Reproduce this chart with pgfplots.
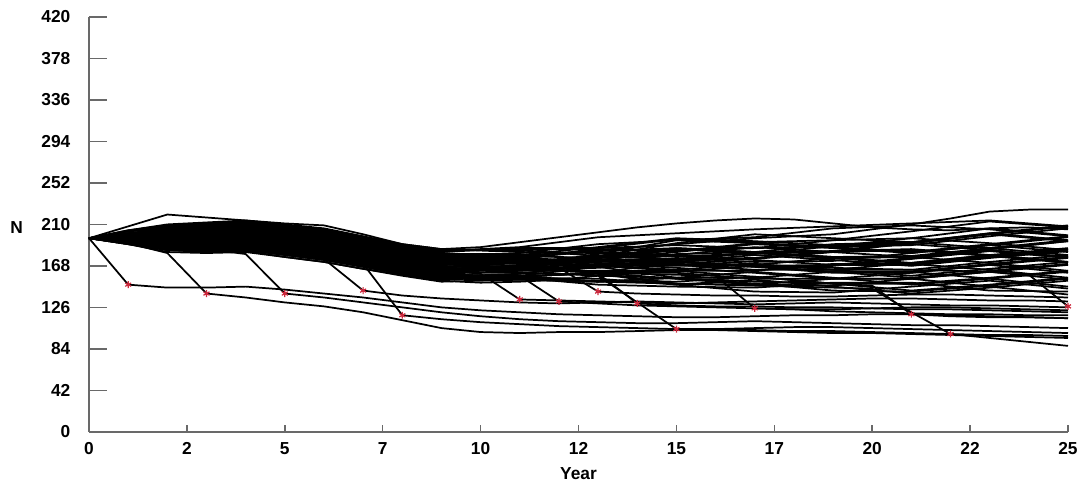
\documentclass[border=0pt]{standalone}
\usepackage{fontspec}
\setmainfont{Liberation Sans}
\usepackage{pgfplots}
\pgfplotsset{compat=1.18}
\definecolor{catred}{RGB}{205,40,60}
\definecolor{axgray}{RGB}{105,105,105}
\pgfplotsset{traj/.style={black, line width=1.3pt, mark=none}}

\begin{document}
\begin{tikzpicture}
\begin{axis}[
  name=ax,
  scale only axis,
  width=734pt, height=311pt,
  xmin=0, xmax=25, ymin=0, ymax=420,
  axis lines=left,
  axis line style={-, axgray, line width=1.8pt},
  tick align=inside,
  tick style={axgray, line width=1.1pt},
  xtick={0,2.5,...,25},
  xticklabels={0,2,5,7,10,12,15,17,20,22,25},
  ytick={0,42,...,420},
  xtick style={/pgfplots/major tick length=5pt},
  ytick style={/pgfplots/major tick length=13.5pt},
  ticklabel style={font=\bfseries\fontsize{13}{15}\selectfont},
  yticklabel style={xshift=-10.5pt},
  xticklabel style={yshift=-4.5pt},
  /pgf/number format/assume math mode=true,
  xlabel={Year}, ylabel={N},
  label style={font=\bfseries\fontsize{13}{15}\selectfont},
  xlabel style={at={(axis description cs:0.5,-0.101)}, anchor=center},
  ylabel style={at={(axis description cs:-0.074,0.493)}, anchor=center, rotate=-90},
  clip=false,
]
% main band trajectories
\addplot[traj] coordinates {(0,196)(1,190)(2,182)(3,181)(4,182)(6,172)(8,158)(9,152)(11,154)(13,152)(15,156)(17,162)(19,156)(21,149)(23,155)(25,162)};
\addplot[traj] coordinates {(0,196)(1,191)(2,185)(3,184)(4,185)(6,175)(8,161)(9,155)(11,158)(13,167)(15,173)(17,168)(19,169)(21,176)(23,184)(25,177)};
\addplot[traj] coordinates {(0,196)(1,193)(2,188)(3,187)(4,188)(6,179)(8,164)(9,159)(11,158)(13,152)(15,156)(17,150)(19,143)(21,142)(23,148)(25,155)};
\addplot[traj] coordinates {(0,196)(1,194)(2,190)(3,190)(4,192)(6,182)(8,168)(9,162)(11,166)(13,176)(15,184)(17,186)(19,194)(21,196)(23,191)(25,184)};
\addplot[traj] coordinates {(0,196)(1,196)(2,193)(3,193)(4,195)(6,186)(8,171)(9,165)(11,166)(13,162)(15,162)(17,168)(19,162)(21,156)(23,163)(25,170)};
\addplot[traj] coordinates {(0,196)(1,197)(2,196)(3,197)(4,198)(6,189)(8,174)(9,169)(11,174)(13,186)(15,195)(17,192)(19,194)(21,203)(23,213)(25,207)};
\addplot[traj] coordinates {(0,196)(1,198)(2,199)(3,200)(4,201)(6,192)(8,177)(9,172)(11,170)(13,172)(15,173)(17,168)(19,162)(21,162)(23,170)(25,177)};
\addplot[traj] coordinates {(0,196)(1,200)(2,202)(3,203)(4,204)(6,196)(8,180)(9,175)(11,178)(13,176)(15,178)(17,180)(19,188)(21,190)(23,184)(25,177)};
\addplot[traj] coordinates {(0,196)(1,201)(2,204)(3,206)(4,208)(6,199)(8,184)(9,178)(11,174)(13,167)(15,156)(17,156)(19,162)(21,162)(23,155)(25,147)};
\addplot[traj] coordinates {(0,196)(1,203)(2,207)(3,209)(4,211)(6,203)(8,187)(9,182)(11,186)(13,186)(15,189)(17,186)(19,188)(21,196)(23,206)(25,199)};
\addplot[traj] coordinates {(0,196)(1,204)(2,210)(3,212)(4,214)(6,206)(8,190)(9,185)(11,182)(13,181)(15,178)(17,174)(19,169)(21,169)(23,177)(25,184)};
\addplot[traj] coordinates {(0,196)(1,191)(2,187)(3,186)(4,187)(6,177)(8,163)(9,157)(11,156)(13,149)(15,147)(17,146)(19,151)(21,151)(23,143)(25,142)};
\addplot[traj] coordinates {(0,196)(1,194)(2,192)(3,192)(4,194)(6,184)(8,170)(9,164)(11,164)(13,169)(15,169)(17,164)(19,164)(21,171)(23,179)(25,172)};
\addplot[traj] coordinates {(0,196)(1,197)(2,198)(3,199)(4,200)(6,191)(8,176)(9,171)(11,172)(13,178)(15,186)(17,182)(19,177)(21,178)(23,186)(25,194)};
\addplot[traj] coordinates {(0,196)(1,200)(2,204)(3,205)(4,206)(6,198)(8,182)(9,177)(11,176)(13,169)(15,164)(17,170)(19,164)(21,158)(23,165)(25,172)};
\addplot[traj] coordinates {(0,196)(1,203)(2,209)(3,211)(4,213)(6,205)(8,189)(9,184)(11,184)(13,178)(15,175)(17,176)(19,183)(21,185)(23,179)(25,172)};
\addplot[traj] coordinates {(0,196)(1,193)(2,190)(3,189)(4,190)(6,181)(8,166)(9,161)(11,168)(13,178)(15,191)(17,200)(19,196)(21,192)(23,201)(25,209)};
\addplot[traj] coordinates {(0,196)(1,196)(2,195)(3,195)(4,197)(6,188)(8,173)(9,167)(11,168)(13,174)(15,175)(17,182)(19,177)(21,171)(23,179)(25,186)};
\addplot[traj] coordinates {(0,196)(1,198)(2,201)(3,202)(4,203)(6,194)(8,179)(9,174)(11,176)(13,183)(15,186)(17,182)(19,183)(21,192)(23,201)(25,194)};
\addplot[traj] coordinates {(0,196)(1,201)(2,206)(3,208)(4,210)(6,201)(8,186)(9,180)(11,180)(13,174)(15,175)(17,170)(19,164)(21,164)(23,172)(25,179)};
\addplot[traj] coordinates {(0,196)(1,190)(2,184)(3,183)(4,184)(6,174)(8,160)(9,154)(11,160)(13,169)(15,180)(17,182)(19,190)(21,192)(23,186)(25,179)};
\addplot[traj] coordinates {(0,196)(1,193)(2,187)(3,186)(4,187)(6,178)(8,163)(9,158)(11,157)(13,161)(15,161)(17,155)(19,155)(21,161)(23,169)(25,161)};
\addplot[traj] coordinates {(0,196)(1,196)(2,192)(3,192)(4,194)(6,185)(8,170)(9,164)(11,169)(13,180)(15,194)(17,191)(19,187)(21,189)(23,198)(25,206)};
\addplot[traj] coordinates {(0,196)(1,198)(2,198)(3,199)(4,200)(6,191)(8,176)(9,171)(11,165)(13,161)(15,150)(17,149)(19,155)(21,155)(23,147)(25,139)};
\addplot[traj] coordinates {(0,196)(1,201)(2,203)(3,205)(4,207)(6,198)(8,183)(9,177)(11,181)(13,190)(15,194)(17,197)(19,206)(21,209)(23,205)(25,198)};
\addplot[traj] coordinates {(0,196)(1,204)(2,209)(3,211)(4,213)(6,205)(8,189)(9,184)(11,185)(13,185)(15,183)(17,191)(19,187)(21,182)(23,190)(25,198)};
\addplot[traj] coordinates {(0,196)(1,197)(2,195)(3,196)(4,197)(6,188)(8,173)(9,168)(11,165)(13,161)(15,155)(17,149)(19,148)(21,155)(23,162)(25,154)};
\addplot[traj] coordinates {(0,196)(1,194)(2,189)(3,189)(4,191)(6,181)(8,167)(9,161)(11,165)(13,166)(15,172)(17,179)(19,174)(21,168)(23,176)(25,183)};
\addplot[traj] coordinates {(0,196)(1,200)(2,201)(3,202)(4,203)(6,195)(8,179)(9,174)(11,173)(13,175)(15,172)(17,167)(19,168)(21,175)(23,183)(25,176)};
\addplot[traj] coordinates {(0,196)(1,203)(2,206)(3,208)(4,210)(6,202)(8,186)(9,181)(11,177)(13,171)(15,166)(17,161)(19,155)(21,155)(23,162)(25,169)};
\addplot[traj] coordinates {(0,196)(1,191)(2,184)(3,183)(4,184)(6,174)(8,160)(9,154)(11,157)(13,161)(15,172)(17,167)(19,161)(21,161)(23,169)(25,176)};
\addplot[traj] coordinates {(0,196)(1,197)(2,197)(3,198)(4,199)(6,190)(8,175)(9,170)(11,171)(13,168)(15,168)(17,169)(19,176)(21,177)(23,171)(25,163)};
\addplot[traj] coordinates {(0,196)(1,194)(2,191)(3,191)(4,193)(6,183)(8,169)(9,163)(11,167)(13,173)(15,185)(17,181)(19,176)(21,177)(23,185)(25,193)};
\addplot[traj] coordinates {(0,196)(1,198)(2,200)(3,201)(4,202)(6,193)(8,178)(9,173)(11,175)(13,173)(15,174)(17,181)(19,176)(21,170)(23,178)(25,185)};
\addplot[traj] coordinates {(0,196)(1,201)(2,205)(3,207)(4,209)(6,200)(8,185)(9,179)(11,179)(13,182)(15,179)(17,187)(19,182)(21,177)(23,185)(25,193)};
\addplot[traj] coordinates {(0,196)(1,196)(2,194)(3,194)(4,196)(6,187)(8,172)(9,166)(11,171)(13,177)(15,185)(17,181)(19,182)(21,191)(23,200)(25,193)};
\addplot[traj] coordinates {(0,196)(1,193)(2,189)(3,188)(4,189)(6,180)(8,165)(9,160)(11,163)(13,168)(15,174)(17,175)(19,182)(21,184)(23,178)(25,171)};
\addplot[traj] coordinates {(0,196)(1,200)(2,203)(3,204)(4,205)(6,197)(8,181)(9,176)(11,179)(13,187)(15,196)(17,193)(19,189)(21,191)(23,200)(25,208)};
\addplot[traj] coordinates {(0,196)(1,203)(2,208)(3,210)(4,212)(6,204)(8,188)(9,183)(11,187)(13,197)(15,201)(17,205)(19,208)(21,211)(23,214)(25,208)};
\addplot[traj] coordinates {(0,196)(1,197)(2,194)(3,195)(4,196)(6,187)(8,172)(9,167)(11,172)(13,174)(15,182)(17,190)(19,186)(21,181)(23,189)(25,197)};
\addplot[traj] coordinates {(0,196)(1,191)(2,186)(3,185)(4,186)(6,176)(8,162)(9,156)(11,155)(13,153)(15,152)(17,157)(19,150)(21,143)(23,149)(25,156)};
\addplot[traj] coordinates {(0,196)(1,196)(2,194)(3,194)(4,196)(6,187)(8,172)(9,166)(11,163)(13,163)(15,163)(17,157)(19,150)(21,150)(23,156)(25,163)};
\addplot[traj] coordinates {(0,196)(1,198)(2,200)(3,201)(4,202)(6,193)(8,178)(9,173)(11,171)(13,168)(15,163)(17,163)(19,170)(21,170)(23,164)(25,156)};
\addplot[traj] coordinates {(0,196)(1,194)(2,188)(3,188)(4,190)(6,180)(8,166)(9,160)(11,156)(13,155)(15,149)(17,142)(19,141)(21,147)(23,153)(25,145)};
\addplot[traj] coordinates {(0,196)(1,201)(2,202)(3,204)(4,206)(6,197)(8,182)(9,176)(11,172)(13,160)(15,149)(17,154)(19,147)(21,140)(23,146)(25,153)};
\addplot[traj] coordinates {(0,196)(1,193)(2,186)(3,185)(4,186)(6,177)(8,162)(9,157)(11,160)(13,170)(15,176)(17,172)(19,173)(21,181)(23,189)(25,182)};
% upper outliers
\addplot[traj] coordinates {(0,196)(1,208)(2,220)(3,217)(4,214)(5,211)(6,209)(7,200)(8,190)(9,185)(10,187)(11,192)(12,197)(13,202)(14,207)(15,211)(16,214)(17,216)(18,215)(19,211)(20,207)(21,205)(22,204)(23,206)(24,207)(25,205)};
\addplot[traj] coordinates {(0,196)(1,198)(2,200)(3,201)(4,202)(6,193)(8,178)(9,173)(11,178)(13,184)(15,190)(17,196)(19,200)(20,205)(21,210)(22,216)(23,223)(24,225)(25,225)};
% trajectories with catastrophes
\addplot[traj] coordinates {(0,196)(1,149)(2,146)(3,146)(4,147)(5,144)(6,140)(7,136)(8,131)(9,126)(10,123)(11,121)(12,119)(13,118)(14,117)(15,116)(16,116)(17,117)(18,118)(19,118)(20,119)(21,119)(22,118)(23,117)(24,116)(25,115)};
\addplot[traj] coordinates {(0,196)(1,191)(2,181)(3,140)(4,136)(5,131)(6,127)(7,121)(8,113)(9,105)(10,101)(11,100)(12,101)(13,101)(14,102)(15,103)(16,103)(17,102)(18,101)(19,100)(20,100)(21,99)(22,98)(23,97)(24,96)(25,95)};
\addplot[traj] coordinates {(0,196)(1,193)(2,188)(3,185)(4,180)(5,140)(6,136)(7,131)(8,126)(9,121)(10,117)(11,114)(12,112)(13,111)(14,110)(15,110)(16,111)(17,112)(18,111)(19,110)(20,109)(21,108)(22,108)(23,107)(24,106)(25,105)};
\addplot[traj] coordinates {(0,196)(1,195)(2,192)(3,190)(4,189)(5,182)(6,175)(7,143)(8,138)(9,135)(10,133)(11,131)(12,130)(13,131)(14,132)(15,131)(16,130)(17,129)(18,130)(19,131)(20,130)(21,129)(22,128)(23,128)(24,127)(25,126)};
\addplot[traj] coordinates {(0,196)(1,197)(2,196)(3,195)(4,195)(5,188)(6,180)(7,170)(8,118)(9,114)(10,111)(11,109)(12,107)(13,106)(14,105)(15,104)(16,104)(17,105)(18,106)(19,106)(20,105)(21,104)(22,103)(23,102)(24,101)(25,100)};
\addplot[traj] coordinates {(0,196)(1,196)(2,194)(3,194)(4,195)(5,190)(6,185)(7,177)(8,170)(9,164)(10,160)(11,134)(12,133)(13,132)(14,131)(15,130)(16,131)(17,132)(18,133)(19,134)(20,135)(21,135)(22,134)(23,133)(24,133)(25,132)};
\addplot[traj] coordinates {(0,196)(1,194)(2,190)(3,189)(4,190)(5,185)(6,180)(7,172)(8,165)(9,160)(10,158)(11,158)(12,132)(13,130)(14,128)(15,127)(16,126)(17,125)(18,124)(19,124)(20,125)(21,126)(22,126)(23,125)(24,124)(25,123)};
\addplot[traj] coordinates {(0,196)(1,199)(2,200)(3,201)(4,203)(5,197)(6,192)(7,184)(8,176)(9,170)(10,168)(11,167)(12,166)(13,142)(14,140)(15,139)(16,138)(17,138)(18,137)(19,137)(20,138)(21,139)(22,139)(23,138)(24,137)(25,136)};
\addplot[traj] coordinates {(0,196)(1,192)(2,187)(3,186)(4,187)(5,181)(6,176)(7,169)(8,162)(9,157)(10,156)(11,157)(12,159)(13,160)(14,130)(15,128)(16,127)(17,127)(18,126)(19,126)(20,125)(21,124)(22,124)(23,123)(24,122)(25,121)};
\addplot[traj] coordinates {(0,196)(1,190)(2,184)(3,182)(4,183)(5,177)(6,172)(7,165)(8,159)(9,153)(10,151)(11,152)(12,154)(13,158)(14,131)(15,104)(16,103)(17,103)(18,102)(19,102)(20,101)(21,100)(22,99)(23,98)(24,98)(25,97)};
\addplot[traj] coordinates {(0,196)(1,193)(2,189)(3,188)(4,189)(5,184)(6,179)(7,172)(8,165)(9,160)(10,158)(11,158)(12,159)(13,160)(14,160)(15,159)(16,158)(17,125)(18,124)(19,122)(20,121)(21,120)(22,119)(23,119)(24,118)(25,118)};
\addplot[traj] coordinates {(0,196)(1,195)(2,193)(3,192)(4,193)(5,187)(6,182)(7,175)(8,168)(9,163)(10,161)(11,161)(12,160)(13,158)(14,157)(15,155)(16,154)(17,152)(18,151)(19,150)(20,148)(21,119)(22,117)(23,116)(24,116)(25,115)};
\addplot[traj] coordinates {(0,196)(1,192)(2,186)(3,185)(4,186)(5,180)(6,175)(7,168)(8,161)(9,156)(10,154)(11,154)(12,153)(13,152)(14,151)(15,150)(16,149)(17,148)(18,147)(19,146)(20,145)(21,121)(22,99)(23,95)(24,91)(25,87)};
\addplot[traj] coordinates {(0,196)(1,197)(2,197)(3,198)(4,199)(5,193)(6,188)(7,181)(8,174)(9,168)(10,166)(11,167)(12,168)(13,170)(14,171)(15,170)(16,169)(17,168)(18,167)(19,166)(20,165)(21,164)(22,163)(23,162)(24,159)(25,127)};
% catastrophe marks
\addplot[only marks, mark=asterisk, mark size=2.6pt, catred, line width=0.9pt] coordinates {
  (1,149)(3,140)(5,140)(7,143)(8,118)(11,134)(12,132)(13,142)(14,130)(15,104)(17,125)(21,119)(22,99)(25,127)};
\end{axis}
\pgfresetboundingbox
\path[use as bounding box] ([shift={(-66.75pt,-42.75pt)}]ax.south west) rectangle ([shift={(15.75pt,12.75pt)}]ax.north east);
\end{tikzpicture}
\end{document}
